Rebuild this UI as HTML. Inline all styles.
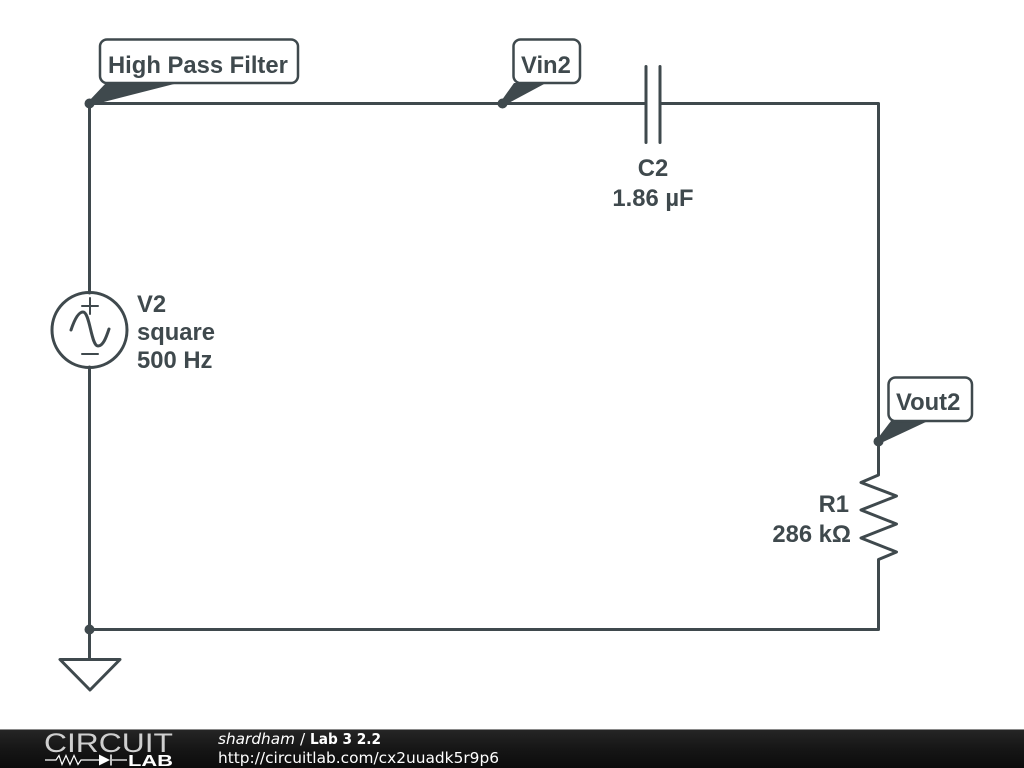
<!DOCTYPE html>
<html>
<head>
<meta charset="utf-8">
<style>
html,body{margin:0;padding:0;background:#fff;width:1024px;height:768px;overflow:hidden}
svg{display:block}
.l{font-family:"Liberation Sans",sans-serif;font-weight:bold;font-size:23.8px;fill:#3f494d}
.f{font-family:"DejaVu Sans",sans-serif;font-size:15.4px;fill:#fff}
</style>
</head>
<body>
<svg width="1024" height="768" viewBox="0 0 1024 768" xmlns="http://www.w3.org/2000/svg">
<defs>
<linearGradient id="g" x1="0" y1="0" x2="0" y2="1">
<stop offset="0" stop-color="#262626"/>
<stop offset="0.5" stop-color="#161616"/>
<stop offset="1" stop-color="#0c0c0c"/>
</linearGradient>
</defs>
<g fill="none" stroke="#3f494d" stroke-width="3" stroke-linejoin="round" stroke-linecap="round">
<!-- wires -->
<path d="M89.500 293V103.500H646M660 103.500H878.500V475L861 482.500L896.500 496L861 510L896.500 524L861 538L896.500 552L878.500 559.500V629.500H89.500"/>
<path d="M89.500 367V659.500"/>
<!-- capacitor -->
<path d="M646 66.500V142.500M660 66.500V142.500"/>
<!-- source -->
<circle cx="89.500" cy="330" r="37.500"/>
<path d="M82 306H98M90 298V314M82 354H98" stroke-width="2"/>
<path d="M71 330C75 318 79 312 83 312C90 312 91 346 98 346C103 346 106 338 109 329"/>
<!-- ground -->
<path d="M60 659.500H120L90 690Z"/>
</g>
<!-- junctions -->
<g fill="#3f494d">
<circle cx="89.500" cy="103.500" r="5"/>
<circle cx="502.500" cy="103.500" r="5"/>
<circle cx="878.500" cy="441.500" r="5"/>
<circle cx="89.500" cy="629.500" r="5"/>
<path d="M88 102L106 83H178L92 105Z"/>
<path d="M500.500 102L514 83H546L505 105Z"/>
<path d="M876.500 440L891 421H928L881 443Z"/>
</g>
<!-- callouts -->
<g fill="#fff" stroke="#3f494d" stroke-width="2.500">
<rect x="100" y="39.500" width="198" height="43.500" rx="7"/>
<rect x="513.500" y="39.500" width="66.500" height="43.500" rx="7"/>
<rect x="888.500" y="377.500" width="83.500" height="43.500" rx="7"/>
</g>
<text class="l" x="108" y="73">High Pass Filter</text>
<text class="l" x="521" y="73">Vin2</text>
<text class="l" x="896" y="410">Vout2</text>
<text class="l" x="653" y="176" text-anchor="middle">C2</text>
<text class="l" x="653" y="206" text-anchor="middle">1.86 µF</text>
<text class="l" x="137" y="312">V2</text>
<text class="l" x="137" y="340">square</text>
<text class="l" x="137" y="368">500 Hz</text>
<text class="l" x="849" y="512" text-anchor="end">R1</text>
<text class="l" x="851" y="542" text-anchor="end">286 kΩ</text>
<!-- footer -->
<rect x="0" y="729" width="1024" height="39" fill="url(#g)"/>
<rect x="0" y="729" width="1024" height="1" fill="#8a8a8a"/>
<text x="44" y="752" font-family="'Liberation Sans',sans-serif" font-size="26.500" fill="#cfcfcf" textLength="129" lengthAdjust="spacingAndGlyphs">CIRCUIT</text>
<path d="M45 760H56L59 755.500L62 764.500L66 755.500L70 764.500L74 755.500L78 764.500L81 760H99M112 760H127" fill="none" stroke="#fff" stroke-width="1.200"/>
<path d="M99 754.500V765.500L110 760Z" fill="#fff"/>
<path d="M111 754.500V765.500" stroke="#fff" stroke-width="1.500"/>
<text x="128" y="766" font-family="'Liberation Sans',sans-serif" font-weight="bold" font-size="15.500" fill="#fff" textLength="45" lengthAdjust="spacingAndGlyphs">LAB</text>
<text class="f" x="218" y="744" font-style="italic" textLength="77" lengthAdjust="spacingAndGlyphs">shardham</text>
<text class="f" x="300" y="744">/</text>
<text class="f" x="310" y="744" font-weight="bold" font-size="14" textLength="71" lengthAdjust="spacingAndGlyphs">Lab 3 2.2</text>
<text class="f" x="218" y="763" textLength="281" lengthAdjust="spacingAndGlyphs">http://circuitlab.com/cx2uuadk5r9p6</text>
</svg>
</body>
</html>
